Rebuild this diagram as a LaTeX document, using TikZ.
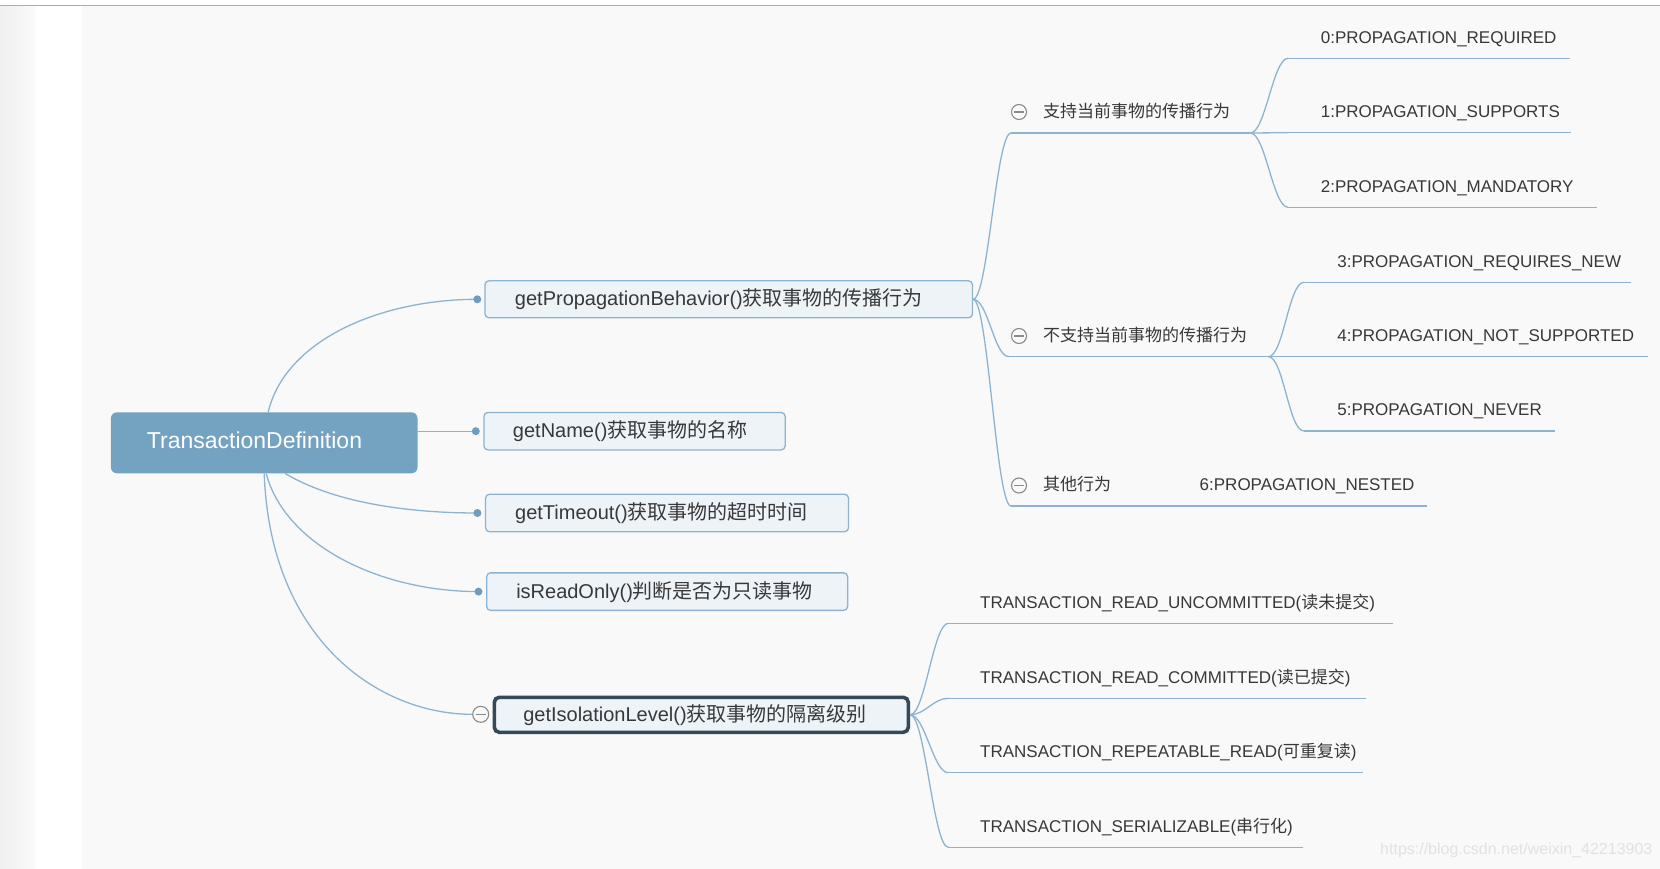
\documentclass[tikz,border=0pt]{standalone}
\usepackage{fontspec}
\setmainfont{Liberation Sans}
\newfontfamily\cjk{Noto Sans CJK SC}
\definecolor{bg}{HTML}{F9F9F9}
\definecolor{topline}{HTML}{ABABAB}
\definecolor{rootfill}{HTML}{74A2C1}
\definecolor{boxfill}{HTML}{EEF3F8}
\definecolor{boxline}{HTML}{8CB3D0}
\definecolor{conn}{HTML}{8DB4CF}
\definecolor{dotc}{HTML}{6F9DC0}
\definecolor{txt}{HTML}{383838}
\definecolor{dark}{HTML}{34495A}
\definecolor{colgray}{HTML}{8A8A8A}
\definecolor{wm}{HTML}{E2E2E2}
\tikzset{
  rootbox/.style={fill=rootfill, rounded corners=6pt, inner xsep=0pt, inner ysep=0pt, anchor=west, align=left,
    text=white, font=\fontsize{23}{27}\selectfont, text height=17pt, text depth=5pt},
  childbox/.style={draw=boxline, fill=boxfill, line width=1.3pt, rounded corners=4pt, inner xsep=0pt, inner ysep=0pt,
    anchor=west, align=left, text=txt, font=\fontsize{20}{24}\selectfont, text height=16pt, text depth=3pt},
  selbox/.style={childbox, draw=dark, line width=3.6pt, rounded corners=5pt},
  leaf/.style={inner xsep=0pt, inner ysep=0pt, anchor=south west, align=left, text=txt,
    font=\fontsize{17}{20}\selectfont, text height=14pt, text depth=15pt},
  uline/.style={conn, line width=1.4pt},
  link/.style={conn, line width=1.3pt},
  collapse/.style={circle, draw=colgray, fill=bg, line width=1.1pt, minimum size=15pt, inner sep=0pt},
  collapsebar/.style={colgray, line width=1.1pt},
  enddot/.style={fill=dotc},
}
\begin{document}
\begin{tikzpicture}[x=1pt,y=-1pt]
\useasboundingbox (0,0) rectangle (1660,869);
% background
\fill[white] (0,0) rectangle (1660,869);
\shade[left color=black!6, right color=black!2] (0,6) rectangle (35,869);
\fill[bg] (82,6) rectangle (1660,869);
\draw[topline, line width=1.2pt] (0,5.5) -- (1660,5.5);

% main nodes
\node[rootbox, text width=306.6pt, minimum height=61pt] (root) at (110.7,442.8) {\hspace*{36pt}TransactionDefinition};
\node[childbox, text width=487.5pt, minimum height=37pt] (pb) at (484.3,299.3) {\hspace*{30pt}getPropagationBehavior(){\cjk 获取事物的传播行为}};
\node[childbox, text width=301.2pt, minimum height=37.5pt] (nm) at (483.3,431.2) {\hspace*{29pt}getName(){\cjk 获取事物的名称}};
\node[childbox, text width=363pt, minimum height=37.5pt] (to) at (484.9,513) {\hspace*{29.6pt}getTimeout(){\cjk 获取事物的超时时间}};
\node[childbox, text width=361pt, minimum height=37.5pt] (ro) at (486,591.6) {\hspace*{29.6pt}isReadOnly(){\cjk 判断是否为只读事物}};
\node[selbox, text width=414pt, minimum height=35pt] (il) at (492.5,714.8) {\hspace*{29pt}getIsolationLevel(){\cjk 获取事物的隔离级别}};

% end dots and collapse marker
\coordinate (pbd) at ([xshift=-7pt]pb.west);
\coordinate (nmd) at ([xshift=-7.5pt]nm.west);
\coordinate (tod) at ([xshift=-7.5pt]to.west);
\coordinate (rod) at ([xshift=-7.5pt]ro.west);
\node[collapse, minimum size=16pt] (ilc) at (480.7,714.3) {};

% group labels
\node[leaf, text width=239pt] (g1) at (1011,133) {\hspace*{32pt}{\cjk 支持当前事物的传播行为}};
\node[leaf, text width=259pt] (g2) at (1009,356.7) {\hspace*{34pt}{\cjk 不支持当前事物的传播行为}};
\node[leaf, text width=156pt] (g3) at (1011,506) {\hspace*{32pt}{\cjk 其他行为}};
\node[collapse] (c1) at (1019,112) {};
\node[collapse] (c2) at (1019,336) {};
\node[collapse] (c3) at (1019,485.5) {};

% leaves
\node[leaf, text width=281.4pt] (l0) at (1288,58.3) {\hspace*{32.7pt}0:PROPAGATION\_REQUIRED};
\node[leaf, text width=282.7pt] (l1) at (1288,132.7) {\hspace*{32.7pt}1:PROPAGATION\_SUPPORTS};
\node[leaf, text width=309pt] (l2) at (1288,207.3) {\hspace*{32.7pt}2:PROPAGATION\_MANDATORY};
\node[leaf, text width=327.2pt] (l3) at (1303.8,282.3) {\hspace*{33.4pt}3:PROPAGATION\_REQUIRES\_NEW};
\node[leaf, text width=343.7pt] (l4) at (1303.8,356.7) {\hspace*{33.4pt}4:PROPAGATION\_NOT\_SUPPORTED};
\node[leaf, text width=251.2pt] (l5) at (1303.8,431) {\hspace*{33.4pt}5:PROPAGATION\_NEVER};
\node[leaf, text width=259.5pt] (l6) at (1167,506) {\hspace*{32.5pt}6:PROPAGATION\_NESTED};
\node[leaf, text width=444.4pt] (i1) at (948.3,623.3) {\hspace*{31.7pt}TRANSACTION\_READ\_UNCOMMITTED({\cjk 读未提交})};
\node[leaf, text width=417.4pt] (i2) at (948.3,698.3) {\hspace*{31.7pt}TRANSACTION\_READ\_COMMITTED({\cjk 读已提交})};
\node[leaf, text width=414.4pt] (i3) at (948.3,772.7) {\hspace*{31.7pt}TRANSACTION\_REPEATABLE\_READ({\cjk 可重复读})};
\node[leaf, text width=354.4pt] (i4) at (948.3,847.3) {\hspace*{31.7pt}TRANSACTION\_SERIALIZABLE({\cjk 串行化})};

% connectors from root
\draw[link] ([xshift=4pt]root.north) .. controls +(17,-72) and +(-97,0) .. (pbd);
\draw[link] (root.east |- nmd) -- (nmd);
\draw[link] ([xshift=21pt]root.south) .. controls +(45,27) and +(-77,0) .. (tod);
\draw[link] ([xshift=2pt]root.south) .. controls +(19,72) and +(-98,0) .. (rod);
\draw[link] (root.south) .. controls +(6,167) and +(-93,0) .. (ilc.west);
\foreach \d in {pbd,nmd,tod,rod} \fill[enddot] (\d) circle (4pt);

% propagation branches
\foreach \g in {g1,g2,g3}
  \draw[link] (pb.east) .. controls +(15,0) and +(-15,0) .. (\g.south west);
\draw[link] (g1.south east) .. controls +(15,0) and +(-15,0) .. (l0.south west);
\draw[link] (g1.south east) -- (l1.south west);
\draw[link] (g1.south east) .. controls +(15,0) and +(-15,0) .. (l2.south west);
\draw[link] (g2.south east) .. controls +(15,0) and +(-15,0) .. (l3.south west);
\draw[link] (g2.south east) -- (l4.south west);
\draw[link] (g2.south east) .. controls +(15,0) and +(-15,0) .. (l5.south west);
\draw[link] (g3.south east) -- (l6.south west);

% isolation branches
\foreach \i in {i1,i2,i3,i4}
  \draw[link] (il.east) .. controls +(15,0) and +(-15,0) .. (\i.south west);

% underlines
\foreach \n in {g1,g2,g3,l0,l1,l2,l3,l4,l5,l6,i1,i2,i3,i4}
  \draw[uline] (\n.south west) -- (\n.south east);

% collapse bars
\foreach \c in {c1,c2,c3,ilc}
  \draw[collapsebar] ([xshift=3.5pt]\c.west) -- ([xshift=-3.5pt]\c.east);

% watermark
\node[anchor=west, text=wm, font=\fontsize{16}{19}\selectfont, inner sep=0pt] (wmk) at (1380,850) {https://blog.csdn.net/weixin\_42213903};
\end{tikzpicture}
\end{document}
